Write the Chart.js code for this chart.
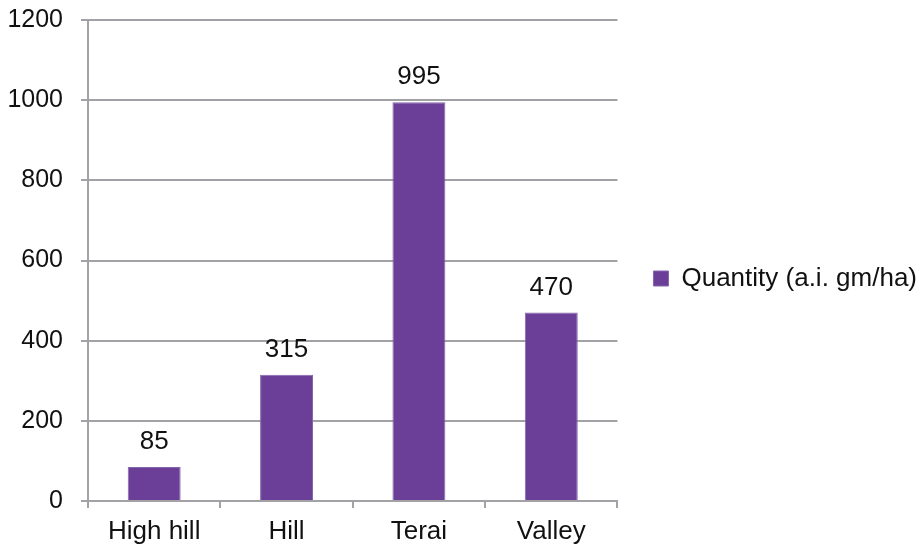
<!DOCTYPE html>
<html>
<head>
<meta charset="utf-8">
<script src="https://cdn.jsdelivr.net/npm/chart.js@4.4.1/dist/chart.umd.min.js"></script>
<style>
  html, body { margin: 0; padding: 0; background: #fff; }
  #wrap { width: 922px; height: 547px; }
</style>
</head>
<body>
<div id="wrap"><canvas id="myChart"></canvas></div>
<script>
var regions = ['High hill', 'Hill', 'Terai', 'Valley'];
var quantity = [85, 315, 995, 470];
var seriesName = 'Quantity (a.i. gm/ha)';
var yTicks = [0, 200, 400, 600, 800, 1000, 1200];

var gridGrey = '#A2A2A6';
var barPurple = '#6B3F98';
var fontFamily = '"Liberation Sans", Arial, sans-serif';

// value printed above each bar
var barValues = {
    id: 'barValues',
    afterDatasetsDraw: function(chart) {
        var ctx = chart.ctx;
        ctx.save();
        ctx.font = '26px ' + fontFamily;
        ctx.fillStyle = '#111';
        ctx.textAlign = 'center';
        ctx.textBaseline = 'alphabetic';
        chart.getDatasetMeta(0).data.forEach(function(bar, i) {
            ctx.fillText(chart.data.datasets[0].data[i], bar.x, bar.y - 18);
        });
        ctx.restore();
    }
};

var ctx = document.getElementById('myChart').getContext('2d');
var myChart = new Chart(ctx, {
    type: 'bar',
    data: {
        labels: regions,
        datasets: [{
            label: seriesName,
            data: quantity,
            backgroundColor: barPurple,
            borderColor: '#8467AE',
            borderWidth: 1,
            barPercentage: 0.4,
            categoryPercentage: 1
        }]
    },
    options: {
        responsive: true,
        maintainAspectRatio: false,
        animation: false,
        layout: {
            padding: { left: 8, top: 10, right: -5, bottom: 0 }
        },
        plugins: {
            tooltip: { enabled: false },
            legend: {
                position: 'right',
                maxWidth: 340,
                labels: {
                    boxWidth: 15,
                    boxHeight: 15,
                    padding: 36,
                    color: '#111',
                    font: { family: fontFamily, size: 26 }
                }
            }
        },
        scales: {
            x: {
                afterFit: function(scale) {
                    scale.height = 46;
                },
                grid: {
                    drawOnChartArea: false,
                    color: gridGrey,
                    lineWidth: 2,
                    tickLength: 7
                },
                border: { color: gridGrey, width: 2 },
                ticks: {
                    color: '#111',
                    padding: 8,
                    font: { family: fontFamily, size: 26 }
                }
            },
            y: {
                min: yTicks[0],
                max: yTicks[yTicks.length - 1],
                afterBuildTicks: function(scale) {
                    scale.ticks = yTicks.map(function(v) { return { value: v }; });
                },
                afterFit: function(scale) {
                    scale.width = 80;
                    scale.paddingTop = 20;
                },
                grid: {
                    color: gridGrey,
                    lineWidth: 2,
                    tickLength: 7
                },
                border: { color: gridGrey, width: 2 },
                ticks: {
                    color: '#111',
                    padding: 18,
                    font: { family: fontFamily, size: 25 },
                    callback: function(v) { return String(v); }
                }
            }
        }
    },
    plugins: [barValues]
});
</script>
</body>
</html>
